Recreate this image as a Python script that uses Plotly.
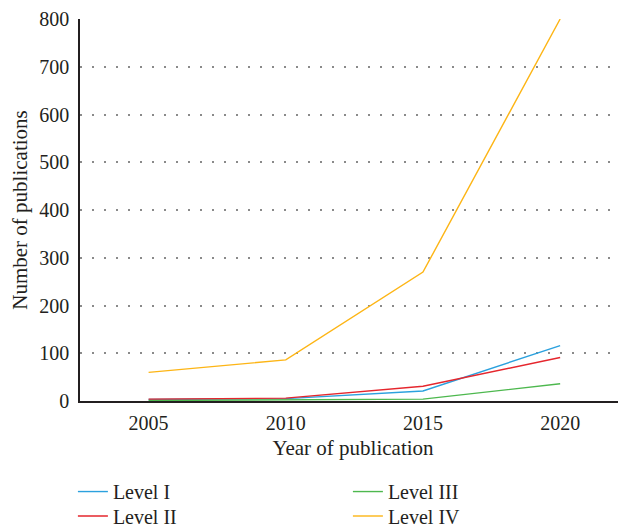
import plotly.graph_objects as go

years = [2005, 2010, 2015, 2020]
level_i = [3, 5, 21, 116]
level_ii = [4, 6, 31, 91]
level_iii = [1, 2, 4, 36]
level_iv = [60, 86, 270, 800]

# name, values, colour, legend row
series = [
    ("Level I", level_i, "#2ba1de", "legend"),
    ("Level III", level_iii, "#4db84e", "legend"),
    ("Level II", level_ii, "#e5262d", "legend2"),
    ("Level IV", level_iv, "#fdb515", "legend2"),
]

FONT = "Liberation Serif"
TXT = "#231f20"
ftick = dict(family=FONT, size=20, color=TXT)
ftitle = dict(family=FONT, size=21, color=TXT)
fleg = dict(family=FONT, size=20, color=TXT)

fig = go.Figure()
for name, vals, col, leg in series:
    fig.add_trace(go.Scatter(
        x=years, y=vals, mode="lines", name=name,
        line=dict(color=col, width=1.4),
        legend=leg,
    ))

leg_common = dict(
    orientation="h", x=-0.013, xanchor="left", yanchor="top",
    entrywidth=230, entrywidthmode="pixels",
    font=fleg, tracegroupgap=0, bgcolor="rgba(0,0,0,0)",
)

# page has an 8px body margin, so the figure is drawn 8px smaller and shifted
fig.update_layout(
    width=618, height=522,
    margin=dict(l=72, r=0, t=11, b=129, autoexpand=False),
    plot_bgcolor="white", paper_bgcolor="white",
    font=ftick,
    showlegend=True,
    legend=dict(y=-0.186, **leg_common),
    legend2=dict(y=-0.250, **leg_common),
)

fig.update_xaxes(
    range=[2002.5, 2022.4], automargin=False,
    tickvals=years, ticktext=[str(y) for y in years], tickfont=ftick,
    showgrid=False, zeroline=False,
    showline=True, linecolor=TXT, linewidth=1.5,
    ticks="", ticklabelstandoff=3,
    title=dict(text="Year of publication", font=ftitle, standoff=8),
)
fig.update_yaxes(
    range=[0, 800], automargin=False,
    tickvals=[0, 100, 200, 300, 400, 500, 600, 700, 800], tickfont=ftick,
    showgrid=True, gridcolor="#8a8a8a", gridwidth=1.5, griddash="1.5px,10.5px",
    zeroline=False,
    showline=True, linecolor=TXT, linewidth=1.5,
    ticks="", ticklabelstandoff=5,
    title=dict(text="Number of publications", font=ftitle, standoff=8),
)

fig.write_html("out.html")
